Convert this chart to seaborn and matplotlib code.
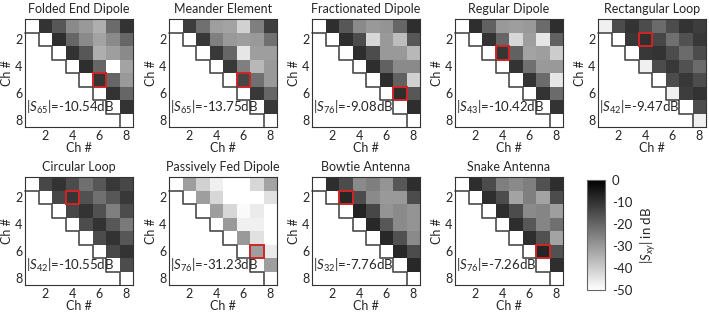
import warnings

warnings.filterwarnings('ignore')
import matplotlib.pyplot as plt
import numpy as np
import pandas as pd
import seaborn as sns
from matplotlib.patches import Rectangle

sns.set_theme(style="white")
plt.rcParams['font.family'] = ['Lato', 'DejaVu Sans']
plt.rcParams['mathtext.fontset'] = 'custom'
plt.rcParams['mathtext.rm'] = 'Lato'
plt.rcParams['mathtext.it'] = 'Lato:italic'
plt.rcParams['axes.unicode_minus'] = False

channels = [1, 2, 3, 4, 5, 6, 7, 8]

titles = ["Folded End Dipole", "Meander Element", "Fractionated Dipole",
          "Regular Dipole", "Rectangular Loop", "Circular Loop",
          "Passively Fed Dipole", "Bowtie Antenna", "Snake Antenna"]

# upper triangle, row i holds |S| for columns i+1..8 (dB)
folded_end = [[-10, -17, -27, -30, -34, -21, -10],
              [-9, -20, -27, -32, -27, -20],
              [-10, -17, -34, -31, -27],
              [-9, -20, -50, -32],
              [-10.54, -20, -30],
              [-10, -20],
              [-10]]
meander = [[-12, -22, -31, -32, -41, -25, -12],
           [-11, -25, -30, -31, -30, -22],
           [-11, -20, -45, -31, -31],
           [-11, -25, -36, -30],
           [-13.75, -22, -30],
           [-11, -20],
           [-11]]
fractionated = [[-9, -17, -27, -30, -29, -20, -9],
                [-9, -15, -42, -30, -37, -17],
                [-9, -15, -30, -30, -36],
                [-9, -19, -27, -27],
                [-9, -19, -41],
                [-9.08, -17],
                [-9]]
regular = [[-9, -19, -30, -31, -30, -21, -9],
           [-10, -20, -42, -31, -45, -19],
           [-10.42, -19, -32, -31, -40],
           [-10, -22, -30, -30],
           [-10, -21, -45],
           [-10, -21],
           [-10]]
rect_loop = [[-15, -10, -15, -21, -15, -10, -12],
             [-11, -9.47, -14, -22, -16, -11],
             [-11, -10, -15, -21, -15],
             [-15, -11, -16, -21],
             [-15, -11, -15],
             [-12, -10],
             [-15]]
circ_loop = [[-14, -10, -15, -22, -17, -11, -14],
             [-14, -10.55, -16, -22, -17, -11],
             [-14, -10, -16, -25, -15],
             [-15, -10, -17, -24],
             [-15, -10, -17],
             [-14, -10],
             [-15]]
passive = [[-31, -41, -47, -50, -50, -42, -32],
           [-31, -42, -50, -50, -50, -44],
           [-31, -42, -49, -46, -50],
           [-30, -47, -47, -50],
           [-30, -44, -50],
           [-31.23, -46],
           [-31]]
bowtie = [[-9, -15, -27, -25, -29, -17, -9],
          [-7.76, -15, -27, -30, -30, -15],
          [-7, -14, -29, -27, -29],
          [-8, -17, -27, -29],
          [-8, -16, -27],
          [-8, -15],
          [-8]]
snake = [[-9, -15, -25, -27, -25, -16, -9],
         [-9, -15, -32, -25, -32, -15],
         [-9, -15, -27, -26, -31],
         [-9, -17, -26, -22],
         [-9, -16, -32],
         [-7.26, -16],
         [-9]]
upper_data = [folded_end, meander, fractionated, regular, rect_loop,
              circ_loop, passive, bowtie, snake]

# diagonal (reflection) values, mostly below -50 dB
diag_default = [-50, -50, -50, -50, -50, -50, -50, -50]
diag_rect = [-47, -50, -50, -47, -50, -47, -50, -47]
diagonals = [diag_default, diag_default, diag_default, diag_default, diag_rect,
             diag_default, diag_default, diag_default, diag_default]

# highlighted coupling (row, column)
highlight = [(5, 6), (5, 6), (6, 7), (3, 4), (2, 4), (2, 4), (6, 7), (2, 3), (6, 7)]


def build_matrix(upper, diag):
    n = len(channels)
    m = np.full((n, n), np.nan)
    for i in range(n):
        m[i, i] = diag[i]
        for k, v in enumerate(upper[i] if i < len(upper) else []):
            m[i, i + 1 + k] = v
    return pd.DataFrame(m, index=channels, columns=channels)


fig = plt.figure(figsize=(7.09, 3.13), dpi=100)
W, H = 709, 313
lefts = [25, 169, 312, 455, 598, 25, 169, 312, 455]
tops = [19, 19, 19, 19, 19, 177, 177, 177, 177]
aw, ah = 108, 108

for idx in range(9):
    ax = fig.add_axes([lefts[idx] / W, 1 - (tops[idx] + ah) / H, aw / W, ah / H])
    df = build_matrix(upper_data[idx], diagonals[idx])
    sns.heatmap(df, cmap='gray_r', vmin=-50, vmax=0, cbar=False, ax=ax,
                square=False, xticklabels=False, yticklabels=False)
    # staircase border below the diagonal
    xs, ys = [0], [1]
    for k in range(1, 8):
        xs += [k, k]
        ys += [k, k + 1]
    ax.plot(xs, ys, color='#4a4a4a', lw=1.2, clip_on=False)
    r, c = highlight[idx]
    ax.add_patch(Rectangle((c - 1, r - 1), 1, 1, fill=False, edgecolor='#d02525', lw=1.4))
    val = df.loc[r, c]
    ax.text(0.06, 6.55, f"|$S_{{{c}{r}}}$|={val:.2f}dB", fontsize=9.5, va='center', ha='left')
    ax.set_xticks([1.5, 3.5, 5.5, 7.5])
    ax.set_xticklabels(['2', '4', '6', '8'], rotation=0)
    ax.set_yticks([1.5, 3.5, 5.5, 7.5])
    ax.set_yticklabels(['2', '4', '6', '8'], rotation=0)
    ax.tick_params(labelsize=9, length=2, direction='in', color='#555555', pad=2)
    ax.set_xlabel("Ch #", fontsize=9, labelpad=0)
    ax.set_ylabel("Ch #", fontsize=9, labelpad=1)
    ax.set_title(titles[idx], fontsize=9, pad=4)
    for sp in ax.spines.values():
        sp.set_visible(True)
        sp.set_color('#333333')
        sp.set_linewidth(0.8)

cax = fig.add_axes([587 / W, 1 - 290 / H, 18 / W, 110 / H])
cb = fig.colorbar(ax.collections[0], cax=cax)
cb.set_ticks([0, -10, -20, -30, -40, -50])
cb.ax.tick_params(labelsize=9.5, length=0, pad=5)
cb.outline.set_edgecolor('#666666')
cb.outline.set_linewidth(0.8)
cb.set_label("|$S_{xy}$| in dB", fontsize=9.5, labelpad=4)

fig.savefig("out.png", dpi=100)
